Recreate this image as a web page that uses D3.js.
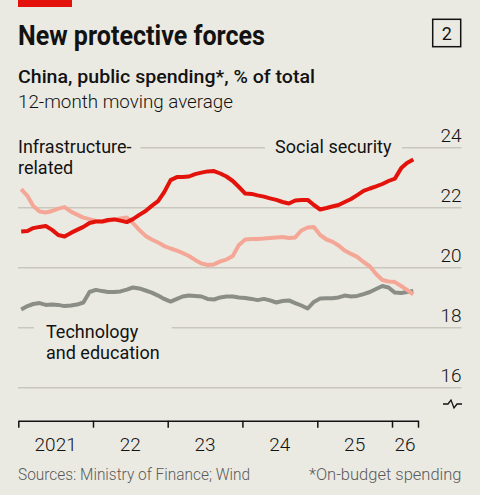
<!DOCTYPE html>
<html lang='en'>
	<head>
		<meta charset='utf-8'>
		<title>New protective forces</title>
		<script type='text/javascript' src='https://cdn.jsdelivr.net/npm/d3@7'></script>
		<style>
			body { margin: 0; background: #ebeae2; }
			svg { display: block; font-family: Roboto, 'Noto Sans', sans-serif; }
		</style>
	</head>
	<body>
			<script type='text/javascript'>
			// monthly points, Jan 2021 .. Apr 2026
			var months = d3.timeMonth.range(new Date(2021, 0, 1), new Date(2026, 4, 1))

			var social_security = [21.21,21.22,21.32,21.36,21.39,21.26,21.09,21.04,21.16,21.26,21.36,21.49,
				21.54,21.54,21.59,21.61,21.57,21.52,21.62,21.76,21.89,22.06,22.22,22.52,
				22.92,23.02,23.02,23.04,23.12,23.17,23.21,23.22,23.14,23.04,22.89,22.69,
				22.47,22.46,22.41,22.37,22.31,22.26,22.19,22.14,22.24,22.26,22.26,22.09,
				21.94,21.99,22.04,22.09,22.19,22.29,22.42,22.56,22.64,22.71,22.79,22.89,
				22.97,23.32,23.49,23.61]
			var infrastructure = [22.62,22.39,22.06,21.87,21.84,21.89,21.97,22.02,21.87,21.77,21.67,21.62,
				21.56,21.54,21.56,21.61,21.64,21.67,21.49,21.26,21.06,20.94,20.84,20.72,
				20.64,20.57,20.49,20.39,20.26,20.14,20.09,20.11,20.21,20.27,20.39,20.76,
				20.94,20.96,20.96,20.97,20.99,21.01,21.02,20.99,21.01,21.24,21.34,21.36,
				21.09,20.94,20.87,20.74,20.57,20.46,20.36,20.19,20.04,19.79,19.59,19.54,
				19.52,19.39,19.26,19.11]
			var tech_education = [18.61,18.72,18.79,18.82,18.76,18.77,18.76,18.72,18.74,18.77,18.84,19.19,
				19.26,19.22,19.19,19.19,19.21,19.27,19.34,19.31,19.24,19.17,19.07,18.96,
				18.87,18.96,19.04,19.07,19.06,19.04,18.96,18.94,19.01,19.04,19.04,19.01,
				18.99,18.96,18.92,18.96,18.91,18.84,18.89,18.91,18.82,18.74,18.64,18.86,
				18.97,18.98,18.98,19.01,19.07,19.04,19.06,19.12,19.19,19.29,19.39,19.34,
				19.17,19.16,19.19,19.22]

			var y_ticks = [16, 18, 20, 22, 24]
			var year_labels = ['2021', '22', '23', '24', '25', '26']

			var width = 480, height = 495
			var bg = '#ebeae2'
			var svg = d3.select('body').append('svg').attr('width', width).attr('height', height)
			svg.append('rect').attr('width', width).attr('height', height).attr('fill', bg)

			var x_start = new Date(2021, 0, 1), x_end = new Date(2026, 4, 8)
			var x = d3.scaleTime().domain([x_start, x_end]).range([18.3, 418])
			var y = d3.scaleLinear().domain([16, 24]).range([387.7, 147.7])
			var mid = d => new Date(d.getFullYear(), d.getMonth(), 15)

			// header
			svg.append('rect').attr('x', 18).attr('y', 0).attr('width', 54).attr('height', 7).attr('fill', '#e3120b')
			svg.append('text').attr('x', 18).attr('y', 45).text('New protective forces')
				.attr('font-size', 27).attr('font-weight', 700).attr('fill', '#121212')
				.attr('textLength', 247).attr('lengthAdjust', 'spacingAndGlyphs')
			svg.append('rect').attr('x', 432.7).attr('y', 19.3).attr('width', 28).attr('height', 27.4)
				.attr('fill', 'none').attr('stroke', '#121212').attr('stroke-width', 1.5)
			svg.append('text').attr('x', 446.7).attr('y', 40).attr('text-anchor', 'middle').text('2')
				.attr('font-size', 18).attr('fill', '#121212')
			svg.append('text').attr('x', 18).attr('y', 83).text('China, public spending*, % of total')
				.attr('font-size', 19).attr('font-weight', 500).attr('fill', '#121212')
				.attr('textLength', 297).attr('lengthAdjust', 'spacingAndGlyphs')
			svg.append('text').attr('x', 18).attr('y', 108).text('12-month moving average')
				.attr('font-size', 17.5).attr('font-weight', 300).attr('fill', '#121212')
				.attr('textLength', 215).attr('lengthAdjust', 'spacingAndGlyphs')

			// gridlines + right-hand labels
			svg.selectAll('line.grid').data(y_ticks).enter().append('line').attr('class', 'grid')
				.attr('x1', 18).attr('x2', 461.5)
				.attr('y1', d => y(d)).attr('y2', d => y(d))
				.attr('stroke', '#c9c7bd').attr('stroke-width', 1.5)
			svg.selectAll('text.ytick').data(y_ticks).enter().append('text').attr('class', 'ytick')
				.attr('x', 461.5).attr('y', d => y(d) - 6).attr('text-anchor', 'end')
				.attr('font-size', 19).attr('font-weight', 300).attr('fill', '#121212')
				.text(d => d)

			// axis break symbol
			svg.append('path').attr('d', 'M443,404 h5 l3,-4 l3,8 l3,-4 h5')
				.attr('fill', 'none').attr('stroke', '#121212').attr('stroke-width', 1.3)

			// series labels, masking the gridlines behind them
			function label(lines, x0, y0, pad) {
				var g = svg.append('g')
				var r = g.append('rect').attr('fill', bg)
				var t = g.append('text').attr('font-size', 18).attr('fill', '#121212')
				lines.forEach((s, i) => t.append('tspan').attr('x', x0).attr('y', y0 + i * 21).text(s))
				var b = t.node().getBBox()
				r.attr('x', b.x - pad).attr('y', b.y).attr('width', b.width + 2 * pad).attr('height', b.height)
			}
			label(['Infrastructure-', 'related'], 18, 153.3, 9)
			label(['Social security'], 275, 153.3, 10)
			label(['Technology', 'and education'], 46, 338.3, 12)

			// lines
			var line = d3.line().x((d, i) => x(mid(months[i]))).y(d => y(d)).curve(d3.curveLinear)
			var series = [
				{ values: tech_education, color: '#8b8e86' },
				{ values: infrastructure, color: '#f4a796' },
				{ values: social_security, color: '#e3120b' }
			]
			svg.selectAll('path.series').data(series).enter().append('path').attr('class', 'series')
				.attr('d', d => line(d.values))
				.attr('fill', 'none').attr('stroke', d => d.color).attr('stroke-width', 4)
				.attr('stroke-linejoin', 'round').attr('stroke-linecap', 'butt')

			// x axis
			var year_starts = d3.range(2021, 2027).map(yr => new Date(yr, 0, 1))
			var x_axis = d3.axisBottom(x).tickValues(year_starts.concat([x_end])).tickFormat('').tickSize(7).tickSizeOuter(0)
			var ax = svg.append('g').attr('transform', 'translate(0,420.7)').call(x_axis)
			ax.select('.domain').attr('stroke', '#121212').attr('stroke-width', 1.5)
			ax.selectAll('.tick line').attr('stroke', '#121212').attr('stroke-width', 1.5)

			var bounds = year_starts.concat([x_end])
			svg.selectAll('text.xlab').data(year_labels).enter().append('text').attr('class', 'xlab')
				.attr('x', (d, i) => (x(bounds[i]) + x(bounds[i + 1])) / 2).attr('y', 450.7)
				.attr('text-anchor', 'middle').attr('font-size', 19).attr('font-weight', 300).attr('fill', '#121212')
				.text(d => d)

			// footer
			svg.append('text').attr('x', 18).attr('y', 480).text('Sources: Ministry of Finance; Wind')
				.attr('font-size', 16.5).attr('font-weight', 300).attr('fill', '#5a5a5a')
				.attr('textLength', 232).attr('lengthAdjust', 'spacingAndGlyphs')
			svg.append('text').attr('x', 461.5).attr('y', 480).attr('text-anchor', 'end').text('*On-budget spending')
				.attr('font-size', 16.5).attr('font-weight', 300).attr('fill', '#5a5a5a')
			</script>
	</body>
</html>
